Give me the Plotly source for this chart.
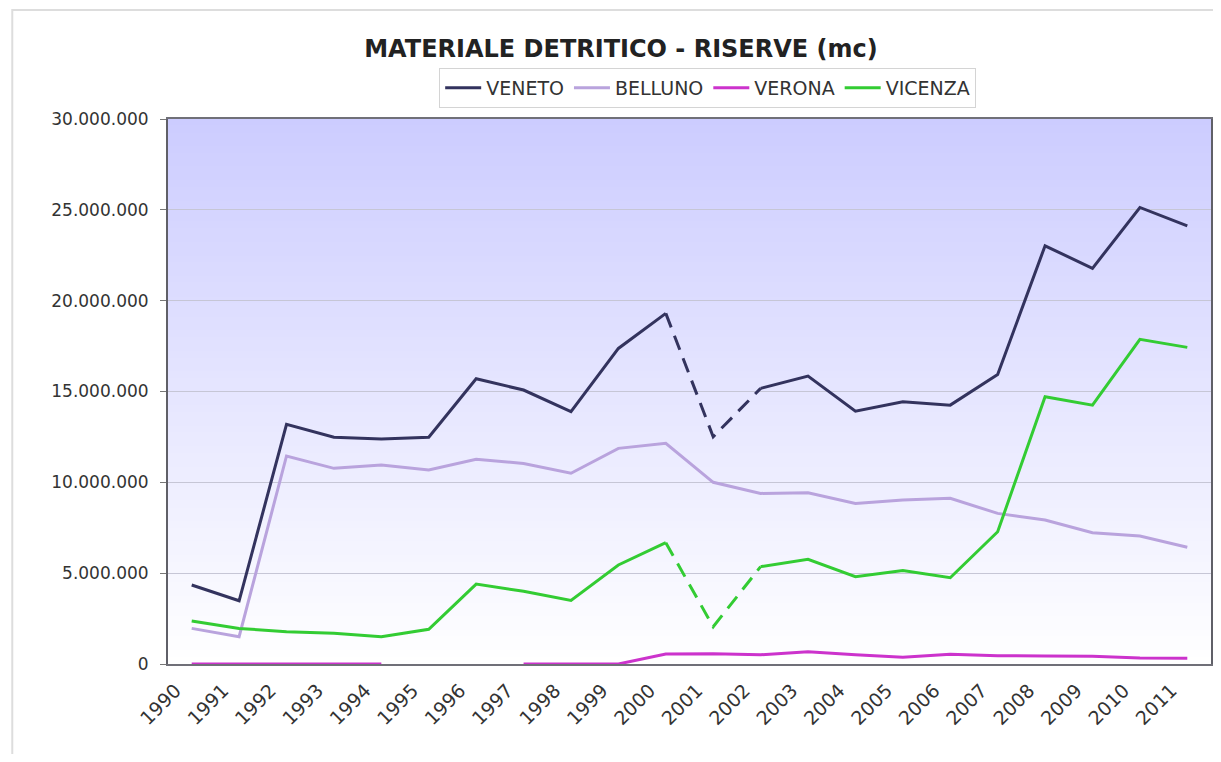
import plotly.graph_objects as go

# ---- data ----
years = [str(y) for y in range(1990, 2012)]
veneto = [4350000, 3480000, 13190000, 12480000, 12380000, 12480000, 15700000, 15080000,
          13890000, 17370000, 19300000, 12510000, 15170000, 15850000, 13920000, 14440000,
          14250000, 15940000, 23020000, 21780000, 25130000, 24120000]
belluno = [1960000, 1500000, 11450000, 10770000, 10950000, 10680000, 11270000, 11040000,
           10500000, 11870000, 12150000, 10000000, 9390000, 9430000, 8840000, 9030000,
           9120000, 8290000, 7930000, 7230000, 7040000, 6430000]
verona = [0, 0, 0, 0, 0, None, None, 0, 0, 0, 550000, 570000, 510000, 680000, 510000,
          370000, 530000, 460000, 440000, 420000, 330000, 310000]
vicenza = [2370000, 1960000, 1780000, 1690000, 1500000, 1910000, 4400000, 4000000,
           3500000, 5450000, 6680000, 2050000, 5360000, 5760000, 4810000, 5140000,
           4750000, 7280000, 14710000, 14250000, 17870000, 17430000]
# years whose connecting segments are drawn dashed (estimated values)
dashed_years = ["2000", "2001", "2002"]
estimated_years = ["2001"]

ytick_vals = [0, 5000000, 10000000, 15000000, 20000000, 25000000, 30000000]

colors = {"VENETO": "#33335e", "BELLUNO": "#b9a3dd", "VERONA": "#cc33cc", "VICENZA": "#33cc33"}


def solid_part(vals):
    return [None if y in estimated_years else v for y, v in zip(years, vals)]


def dashed_part(vals):
    return [v if y in dashed_years else None for y, v in zip(years, vals)]


fig = go.Figure()
series = [("VENETO", veneto, True), ("BELLUNO", belluno, False),
          ("VERONA", verona, False), ("VICENZA", vicenza, True)]
for name, vals, has_dash in series:
    fig.add_trace(go.Scatter(
        x=years, y=solid_part(vals) if has_dash else vals, name=name, mode="lines",
        line=dict(color=colors[name], width=3), connectgaps=False))
for name, vals, has_dash in series:
    if has_dash:
        fig.add_trace(go.Scatter(
            x=years, y=dashed_part(vals), name=name, mode="lines", showlegend=False,
            line=dict(color=colors[name], width=3, dash="15px,9px"), connectgaps=False))

# gradient plot background (lavender at top -> white at bottom)
shapes = []
n = 80
top = (204, 204, 255)
bot = (255, 255, 255)
for i in range(n):
    f = (i + 0.5) / n
    c = tuple(round(bot[k] + (top[k] - bot[k]) * f) for k in range(3))
    shapes.append(dict(type="rect", xref="x domain", yref="y domain",
                       x0=0, x1=1, y0=i / n, y1=(i + 1) / n + 0.002,
                       fillcolor="rgb(%d,%d,%d)" % c, line=dict(width=0), layer="below"))
# outer chart frame
shapes.append(dict(type="rect", xref="paper", yref="paper",
                   x0=-0.1493, x1=1.2, y0=-0.3, y1=1.2,
                   line=dict(color="#dddddd", width=2), fillcolor="rgba(0,0,0,0)", layer="below"))

fig.update_layout(
    width=1205, height=746,
    margin=dict(l=160, r=0, t=111, b=90),
    paper_bgcolor="white", plot_bgcolor="rgba(0,0,0,0)",
    separators=",.",
    font=dict(family="DejaVu Sans", color="#333333", size=16),
    title=dict(text="<b>MATERIALE DETRITICO - RISERVE (mc)</b>",
               font=dict(family="DejaVu Sans", size=24, color="#222222"),
               x=0.5087, xref="container", xanchor="center",
               y=0.946, yref="container", yanchor="middle"),
    legend=dict(orientation="h", x=0.26, xanchor="left", y=1.057, yanchor="middle",
                font=dict(size=19, color="#333333"), bgcolor="white",
                bordercolor="#d4d4d4", borderwidth=1, itemwidth=36,
                tracegroupgap=0),
    shapes=shapes,
    showlegend=True,
)
fig.update_xaxes(type="category", range=[-0.5, len(years) - 0.5],
                 tickangle=-45, tickfont=dict(size=19, color="#333333"),
                 showgrid=False, showline=True, linecolor="#707078", linewidth=2,
                 mirror=True, ticks="", ticklabelstandoff=6, ticklabelshift=-16,
                 layer="below traces")
fig.update_yaxes(range=[0, 30000000], tickvals=ytick_vals, tickformat=",d",
                 tickfont=dict(size=17, color="#333333"),
                 showgrid=True, gridcolor="#c6c6d6", gridwidth=1,
                 showline=True, linecolor="#606068", linewidth=2, mirror=True,
                 ticks="outside", ticklen=6, tickcolor="#777777",
                 ticklabelstandoff=8, zeroline=False, layer="below traces")

fig.write_html("out.html")
